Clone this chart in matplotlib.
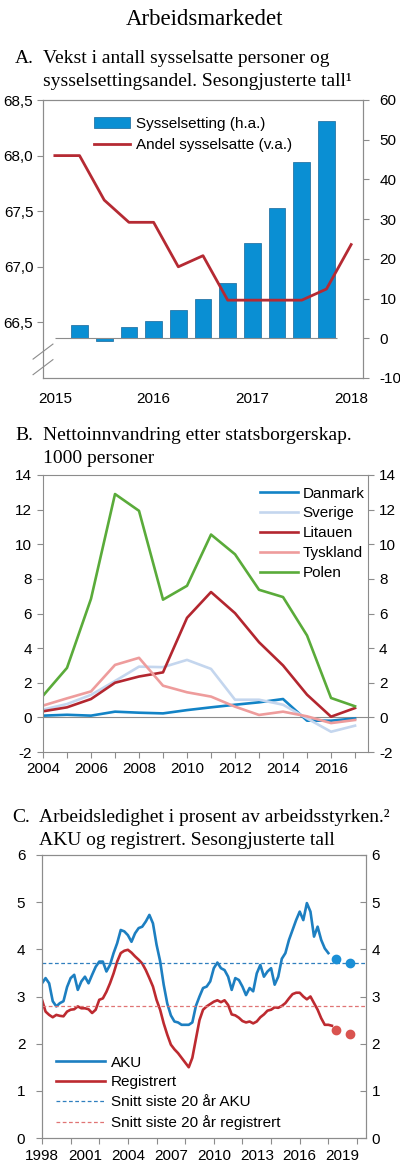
import numpy as np
import matplotlib
matplotlib.use('Agg')
import matplotlib.pyplot as plt

plt.rcParams['font.family'] = ['Liberation Sans', 'DejaVu Sans']
plt.rcParams['axes.unicode_minus'] = False
plt.rcParams['font.size'] = 11

SERIF = ['Liberation Serif', 'DejaVu Serif']
GRA = '#8c8c8c'

# ---------------- A: sysselsetting ----------------
kvartal_stolper = [2015.25, 2015.5, 2015.75, 2016.0, 2016.25, 2016.5,
                   2016.75, 2017.0, 2017.25, 2017.5, 2017.75]
sysselsetting = [3.4, -0.6, 2.9, 4.4, 7.0, 9.9, 14.0, 24.1, 32.7, 44.4, 54.7]
kvartal_linje = [2015.0, 2015.25, 2015.5, 2015.75, 2016.0, 2016.25, 2016.5,
                 2016.75, 2017.0, 2017.25, 2017.5, 2017.75, 2018.0]
andel_sysselsatte = [68.0, 68.0, 67.6, 67.4, 67.4, 67.0, 67.1,
                     66.7, 66.7, 66.7, 66.7, 66.8, 67.2]
a_venstre_ticks = [66.5, 67.0, 67.5, 68.0, 68.5]
a_venstre_labels = ['66,5', '67,0', '67,5', '68,0', '68,5']
a_hoyre_ticks = [-10, 0, 10, 20, 30, 40, 50, 60]
a_ar = [2015, 2016, 2017, 2018]

# ---------------- B: nettoinnvandring ----------------
ar_b = list(range(2004, 2018))
danmark = [0.10, 0.15, 0.10, 0.33, 0.27, 0.23, 0.42, 0.58, 0.73, 0.87, 1.06, -0.19, -0.19, -0.06]
sverige = [0.45, 0.77, 1.30, 2.10, 2.93, 2.90, 3.32, 2.80, 1.02, 1.02, 0.73, -0.06, -0.83, -0.48]
litauen = [0.35, 0.58, 1.06, 2.00, 2.36, 2.60, 5.75, 7.24, 6.02, 4.34, 3.00, 1.31, 0.04, 0.54]
tyskland = [0.68, 1.10, 1.50, 3.03, 3.44, 1.83, 1.45, 1.20, 0.62, 0.14, 0.33, 0.06, -0.33, -0.15]
polen = [1.25, 2.86, 6.85, 12.90, 11.93, 6.80, 7.60, 10.56, 9.42, 7.37, 6.95, 4.73, 1.12, 0.64]
b_ticks = [-2, 0, 2, 4, 6, 8, 10, 12, 14]

# ---------------- C: arbeidsledighet (kvartalsvis avlest, fra 1998K1) ----------------
aku = [3.28, 3.39, 3.28, 2.90,
       2.79, 2.86, 2.90, 3.20,
       3.39, 3.46, 3.14, 3.32,
       3.42, 3.28, 3.46, 3.63,
       3.74, 3.74, 3.53, 3.67,
       3.92, 4.13, 4.41, 4.38,
       4.30, 4.16, 4.34, 4.45,
       4.48, 4.59, 4.73, 4.55,
       4.10, 3.75, 3.25, 2.85,
       2.60, 2.47, 2.45, 2.40,
       2.40, 2.40, 2.45, 2.80,
       3.00, 3.18, 3.21, 3.32,
       3.60, 3.72, 3.60, 3.56,
       3.42, 3.14, 3.39, 3.35,
       3.21, 3.03, 3.18, 3.11,
       3.49, 3.67, 3.42, 3.53,
       3.60, 3.25, 3.42, 3.80,
       3.92, 4.20, 4.41, 4.62,
       4.80, 4.62, 4.98, 4.80,
       4.27, 4.48, 4.20, 4.02,
       3.92]
registrert = [2.93, 2.68, 2.61, 2.56,
              2.61, 2.59, 2.58, 2.68,
              2.72, 2.73, 2.79, 2.75,
              2.75, 2.73, 2.65, 2.72,
              2.93, 2.96, 3.10, 3.28,
              3.49, 3.74, 3.92, 3.97,
              3.99, 3.93, 3.85, 3.78,
              3.70, 3.56, 3.39, 3.21,
              2.93, 2.72, 2.43, 2.19,
              1.98, 1.88, 1.80, 1.70,
              1.60, 1.50, 1.70, 2.10,
              2.50, 2.72, 2.79, 2.84,
              2.89, 2.92, 2.88, 2.92,
              2.82, 2.62, 2.60, 2.55,
              2.48, 2.45, 2.47, 2.43,
              2.47, 2.56, 2.62, 2.70,
              2.72, 2.77, 2.76, 2.80,
              2.86, 2.96, 3.05, 3.08,
              3.08, 3.00, 2.94, 3.00,
              2.86, 2.72, 2.54, 2.40,
              2.40, 2.38]
anslag_ar = [2018.5, 2019.5]
anslag_aku = [3.8, 3.7]
anslag_reg = [2.3, 2.2]
snitt_aku = 3.7
snitt_reg = 2.8
c_ticks = [0, 1, 2, 3, 4, 5, 6]
c_ar_labels = list(range(1998, 2020, 3))

fig = plt.figure(figsize=(4, 11.75), dpi=100)
W, H = 400, 1175


def boks(l, t, r, b):
    return [l / W, 1 - b / H, (r - l) / W, (b - t) / H]


def tittel(y, bokstav, linjer, xb=15, xt=43):
    fig.text(xb / W, 1 - y / H, bokstav, family=SERIF, fontsize=14, va='baseline')
    for i, s in enumerate(linjer):
        fig.text(xt / W, 1 - (y + 23 * i) / H, s, family=SERIF, fontsize=14, va='baseline')


def spines(ax):
    for s in ax.spines.values():
        s.set_color(GRA)
        s.set_linewidth(0.8)


fig.text(205 / W, 1 - 25 / H, 'Arbeidsmarkedet', family=SERIF, fontsize=16.5,
         ha='center', va='baseline')

# ---------------- A ----------------
tittel(63, 'A.', ['Vekst i antall sysselsatte personer og',
                  'sysselsettingsandel. Sesongjusterte tall\u00b9'])
axA = fig.add_axes(boks(43, 100, 363, 378))
axA2 = axA.twinx()
axA2.bar(kvartal_stolper, sysselsetting, width=0.17, color='#0a8fd3',
         edgecolor='#16679a', linewidth=0.5, label='Sysselsetting (h.a.)', zorder=2)
axA2.hlines(0, 2015.0, 2017.86, color=GRA, linewidth=0.8, zorder=3)
axA2.set_ylim(-10, 60)
axA2.set_yticks(a_hoyre_ticks)
axA.plot(kvartal_linje, andel_sysselsatte, color='#b52a33', linewidth=2,
         label='Andel sysselsatte (v.a.)')
axA.set_ylim(66.0, 68.5)
axA.set_yticks(a_venstre_ticks)
axA.set_yticklabels(a_venstre_labels)
axA.set_xlim(2014.88, 2018.12)
axA.set_xticks(a_ar)
axA.tick_params(axis='x', length=0, pad=10)
axA.tick_params(axis='y', length=4, color=GRA, pad=3)
axA2.tick_params(axis='y', length=4, color=GRA, pad=8)
axA.set_zorder(axA2.get_zorder() + 1)
axA.patch.set_visible(False)
spines(axA)
spines(axA2)
# bruddtegn på venstre akse
for y0 in (0.012, 0.068):
    axA.plot([-0.031, 0.031], [y0, y0 + 0.054], transform=axA.transAxes,
             color=GRA, linewidth=0.8, clip_on=False)
hA = [axA2.get_legend_handles_labels()[0][0], axA.get_legend_handles_labels()[0][0]]
fig.legend(hA, ['Sysselsetting (h.a.)', 'Andel sysselsatte (v.a.)'],
           loc='upper left', bbox_to_anchor=(86 / W, 1 - 109 / H), frameon=False,
           borderpad=0, handlelength=2.4, handletextpad=0.35, labelspacing=0.5)

# ---------------- B ----------------
tittel(440, 'B.', ['Nettoinnvandring etter statsborgerskap.', '1000 personer'])
axB = fig.add_axes(boks(43, 475, 368, 752))
axB.axhline(0, color=GRA, linewidth=0.8)
axB.plot(ar_b, danmark, color='#1283c6', linewidth=1.9, label='Danmark')
axB.plot(ar_b, sverige, color='#c4d6ee', linewidth=1.9, label='Sverige')
axB.plot(ar_b, litauen, color='#b3262f', linewidth=1.9, label='Litauen')
axB.plot(ar_b, tyskland, color='#ee9c9c', linewidth=1.9, label='Tyskland')
axB.plot(ar_b, polen, color='#5aab3a', linewidth=1.9, label='Polen')
axB.set_xlim(2004, 2017.54)
axB.set_ylim(-2, 14)
axB.set_yticks(b_ticks)
axB.set_xticks(ar_b)
axB.set_xticklabels([str(a) if a % 2 == 0 else '' for a in ar_b])
axB.tick_params(axis='x', length=4, color=GRA, pad=3)
axB.tick_params(axis='y', length=4, color=GRA, pad=4)
axB.tick_params(axis='y', which='both', right=True, labelright=True)
spines(axB)
axB.legend(loc='upper left', bbox_to_anchor=(252 / W, 1 - 479 / H),
           bbox_transform=fig.transFigure, frameon=False, borderpad=0,
           handlelength=2.5, handletextpad=0.3, labelspacing=0.38)

# ---------------- C ----------------
tittel(822, 'C.', ['Arbeidsledighet i prosent av arbeidsstyrken.\u00b2',
                   'AKU og registrert. Sesongjusterte tall'], xb=12, xt=39)
axC = fig.add_axes(boks(42, 855, 366, 1138))
x_aku = 1998 + 0.25 * np.arange(len(aku))
x_reg = 1998 + 0.25 * np.arange(len(registrert))
axC.plot(x_aku, aku, color='#1d7fc1', linewidth=1.9, label='AKU')
axC.plot(x_reg, registrert, color='#bd2a30', linewidth=1.9, label='Registrert')
axC.axhline(snitt_aku, color='#2f7fbf', linewidth=0.9, linestyle=(0, (3, 2)),
            label='Snitt siste 20 år AKU')
axC.axhline(snitt_reg, color='#e07474', linewidth=0.9, linestyle=(0, (3, 2)),
            label='Snitt siste 20 år registrert')
axC.plot(anslag_ar, anslag_aku, 'o', color='#1a8fd6', markersize=6)
axC.plot(anslag_ar, anslag_reg, 'o', color='#d9534f', markersize=6)
axC.set_xlim(1998, 2020.63)
axC.set_ylim(0, 6)
axC.set_yticks(c_ticks)
axC.xaxis.remove_overlapping_locs = False
axC.set_xticks(range(1998, 2021, 2))
axC.set_xticklabels([])
axC.set_xticks(c_ar_labels, minor=True)
axC.set_xticklabels([str(a) for a in c_ar_labels], minor=True)
axC.tick_params(axis='x', which='major', length=4, color=GRA)
axC.tick_params(axis='x', which='minor', length=0, pad=8)
axC.tick_params(axis='y', length=4, color=GRA, pad=8)
axC2 = axC.twinx()
axC2.set_ylim(0, 6)
axC2.set_yticks(c_ticks)
axC2.tick_params(axis='y', direction='in', length=4, color=GRA, pad=4)
spines(axC)
spines(axC2)
axC.legend(loc='upper left', bbox_to_anchor=(48 / W, 1 - 1048 / H),
           bbox_transform=fig.transFigure, frameon=False, borderpad=0,
           handlelength=3.2, handletextpad=0.4, labelspacing=0.38)

fig.savefig('out.png', dpi=100)
